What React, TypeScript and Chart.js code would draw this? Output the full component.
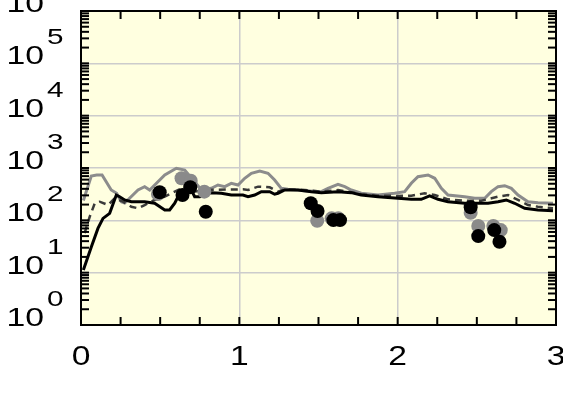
import React, { useEffect, useRef } from 'react';
import { Chart, registerables } from 'chart.js';

Chart.register(...registerables);

// ---- data ----
const grayLineX = [0.015, 0.065, 0.099, 0.133, 0.191, 0.225, 0.255, 0.276, 0.36, 0.402, 0.434, 0.486, 0.529, 0.602, 0.655, 0.718, 0.76, 0.823, 0.865, 0.908, 0.949, 0.992, 1.034, 1.076, 1.129, 1.181, 1.223, 1.265, 1.307, 1.413, 1.518, 1.56, 1.623, 1.666, 1.707, 1.77, 1.876, 1.981, 2.044, 2.086, 2.128, 2.192, 2.234, 2.276, 2.318, 2.423, 2.487, 2.55, 2.591, 2.634, 2.676, 2.718, 2.76, 2.823, 2.886, 2.981];
const grayLineY = [239, 703, 735, 735, 380, 329, 227, 214, 380, 440, 380, 547, 735, 986, 916, 547, 380, 409, 473, 440, 510, 473, 636, 793, 877, 793, 590, 409, 392, 368, 353, 409, 489, 440, 380, 329, 305, 329, 353, 510, 682, 735, 636, 409, 305, 283, 264, 264, 353, 440, 459, 409, 305, 227, 217, 212];

const blackLineX = [0.015, 0.065, 0.107, 0.139, 0.181, 0.223, 0.244, 0.276, 0.318, 0.402, 0.465, 0.529, 0.56, 0.592, 0.613, 0.655, 0.697, 0.718, 0.75, 0.781, 0.823, 0.886, 0.949, 1.023, 1.055, 1.097, 1.139, 1.192, 1.223, 1.244, 1.287, 1.371, 1.455, 1.518, 1.623, 1.707, 1.77, 1.876, 2.002, 2.086, 2.149, 2.202, 2.255, 2.318, 2.423, 2.571, 2.634, 2.686, 2.739, 2.802, 2.886, 2.981];
const blackLineY = [11.2, 31, 70, 109, 136, 305, 283, 245, 227, 227, 212, 158, 158, 212, 283, 329, 380, 283, 283, 329, 338, 329, 305, 305, 283, 305, 353, 353, 315, 329, 380, 380, 353, 338, 353, 338, 305, 283, 264, 252, 252, 292, 252, 227, 212, 212, 227, 245, 212, 170, 158, 153];

const dashLineX = [0.023, 0.055, 0.087, 0.118, 0.171, 0.213, 0.265, 0.318, 0.36, 0.402, 0.465, 0.529, 0.592, 0.634, 0.676, 0.718, 0.781, 1.023, 1.055, 1.118, 1.192, 1.244, 1.287, 1.413, 1.518, 1.623, 1.686, 1.77, 1.876, 2.002, 2.086, 2.171, 2.234, 2.318, 2.423, 2.528, 2.634, 2.697, 2.76, 2.823, 2.886, 2.981];
const dashLineY = [57, 117, 212, 227, 196, 264, 227, 182, 170, 196, 245, 283, 353, 409, 440, 353, 380, 392, 380, 440, 428, 353, 392, 380, 353, 380, 353, 315, 296, 292, 296, 329, 305, 252, 237, 237, 283, 305, 245, 196, 182, 170];

const grayDotX = [0.486, 0.635, 0.693, 0.779, 1.492, 1.583, 1.625, 2.461, 2.509, 2.604, 2.651];
const grayDotY = [319, 636, 572, 353, 98, 109, 109, 140, 78, 78, 65];

const blackDotX = [0.497, 0.641, 0.69, 0.788, 1.451, 1.494, 1.594, 1.636, 2.461, 2.509, 2.61, 2.643];
const blackDotY = [344, 305, 428, 146, 212, 151, 101, 101, 178, 50, 65, 39];

const xTickValues = [0.25, 0.5, 0.75, 1, 1.25, 1.5, 1.75, 2, 2.25, 2.5, 2.75];
const xLabelValues = [0, 1, 2, 3];
const yExponents = [0, 1, 2, 3, 4, 5, 6];
const yMinorMultipliers = [1, 2, 3, 4, 5, 6, 7, 8, 9];

const FONT = '"Liberation Sans", Arial, Helvetica, sans-serif';

const pts = (xs: number[], ys: number[]) => xs.map((x, i) => ({ x, y: ys[i] }));

const isDecade = (v: number) => Math.abs(Math.log10(v) - Math.round(Math.log10(v))) < 1e-9;

const framePlugin = {
  id: 'frame',
  beforeDraw(chart: any) {
    const { ctx, chartArea: a } = chart;
    ctx.save();
    ctx.fillStyle = '#FFFFE0';
    ctx.fillRect(a.left, a.top, a.right - a.left, a.bottom - a.top);
    ctx.restore();
  },
  afterDraw(chart: any) {
    const { ctx, chartArea: a, scales } = chart;
    const xs = scales.x;
    const ys = scales.y;
    ctx.save();
    ctx.strokeStyle = '#000';
    ctx.lineWidth = 2;
    const line = (x1: number, y1: number, x2: number, y2: number) => {
      ctx.beginPath();
      ctx.moveTo(x1, y1);
      ctx.lineTo(x2, y2);
      ctx.stroke();
    };
    const tl = 8;
    for (const v of xTickValues) {
      const px = xs.getPixelForValue(v);
      line(px, a.bottom, px, a.bottom - tl);
      line(px, a.top, px, a.top + tl);
    }
    for (const e of yExponents) {
      for (const m of yMinorMultipliers) {
        const v = m * Math.pow(10, e);
        if (v > 1e6 || v <= 1) continue;
        const py = ys.getPixelForValue(v);
        line(a.left, py, a.left + tl, py);
        line(a.right, py, a.right - tl, py);
      }
    }
    ctx.strokeRect(a.left, a.top, a.right - a.left, a.bottom - a.top);

    ctx.fillStyle = '#000';
    // x labels
    for (const v of xLabelValues) {
      const px = xs.getPixelForValue(v);
      ctx.save();
      ctx.translate(px, a.bottom + 40);
      ctx.scale(1.2, 1);
      ctx.font = `28px ${FONT}`;
      ctx.textAlign = 'center';
      ctx.textBaseline = 'alphabetic';
      ctx.fillText(String(v), 0, 0);
      ctx.restore();
    }
    // y labels 10^n
    for (const e of yExponents) {
      const py = ys.getPixelForValue(Math.pow(10, e));
      ctx.save();
      ctx.translate(44, py + 1);
      ctx.scale(1.35, 1);
      ctx.font = `25px ${FONT}`;
      ctx.textAlign = 'right';
      ctx.textBaseline = 'alphabetic';
      ctx.fillText('10', 0, 0);
      ctx.restore();
      ctx.save();
      ctx.translate(47, py - 19);
      ctx.scale(1.35, 1);
      ctx.font = `22px ${FONT}`;
      ctx.textAlign = 'left';
      ctx.textBaseline = 'alphabetic';
      ctx.fillText(String(e), 0, 0);
      ctx.restore();
    }
    ctx.restore();
  },
};

export default function App() {
  const ref = useRef<HTMLCanvasElement | null>(null);
  useEffect(() => {
    if (!ref.current) return;
    const chart = new Chart(ref.current, {
      type: 'scatter',
      data: {
        datasets: [
          {
            label: 'black dots',
            data: pts(blackDotX, blackDotY),
            backgroundColor: '#000',
            borderWidth: 0,
            pointRadius: 7,
            order: 0,
          },
          {
            label: 'gray dots',
            data: pts(grayDotX, grayDotY),
            backgroundColor: '#8a8a8a',
            borderWidth: 0,
            pointRadius: 7,
            order: 1,
          },
          {
            label: 'black line',
            data: pts(blackLineX, blackLineY),
            showLine: true,
            borderColor: '#000',
            borderWidth: 3,
            pointRadius: 0,
            tension: 0,
            order: 2,
          },
          {
            label: 'dashed line',
            data: pts(dashLineX, dashLineY),
            showLine: true,
            borderColor: '#3a3a3a',
            borderWidth: 2.5,
            borderDash: [7, 5],
            pointRadius: 0,
            tension: 0,
            order: 3,
          },
          {
            label: 'gray line',
            data: pts(grayLineX, grayLineY),
            showLine: true,
            borderColor: '#8c8c8c',
            borderWidth: 3,
            pointRadius: 0,
            tension: 0,
            order: 4,
          },
        ],
      },
      options: {
        animation: false,
        responsive: false,
        devicePixelRatio: 1,
        layout: { padding: { left: 81, right: 7, top: 11, bottom: 90 } },
        plugins: { legend: { display: false }, tooltip: { enabled: false } },
        scales: {
          x: {
            type: 'linear',
            min: 0,
            max: 3,
            ticks: { display: false, stepSize: 0.25 },
            grid: {
              drawTicks: false,
              lineWidth: 1.5,
              color: (c: any) => {
                const v = c.tick ? c.tick.value : NaN;
                return Math.abs(v - Math.round(v)) < 1e-9 && v > 0 && v < 3 ? '#cccccc' : 'rgba(0,0,0,0)';
              },
            },
            border: { display: false },
          },
          y: {
            type: 'logarithmic',
            min: 1,
            max: 1e6,
            afterBuildTicks: (scale: any) => {
              scale.ticks = yExponents.map((e) => ({ value: Math.pow(10, e) }));
            },
            ticks: { display: false },
            grid: {
              drawTicks: false,
              lineWidth: 1.5,
              color: (c: any) => {
                const v = c.tick ? c.tick.value : NaN;
                return v > 1 && v < 1e6 && isDecade(v) ? '#cccccc' : 'rgba(0,0,0,0)';
              },
            },
            border: { display: false },
          },
        },
      },
      plugins: [framePlugin],
    } as any);
    return () => chart.destroy();
  }, []);
  return (
    <div style={{ position: 'absolute', left: 0, top: 0, width: 563, height: 415, background: '#fff' }}>
      <canvas ref={ref} width={563} height={415} style={{ display: 'block' }} />
    </div>
  );
}
